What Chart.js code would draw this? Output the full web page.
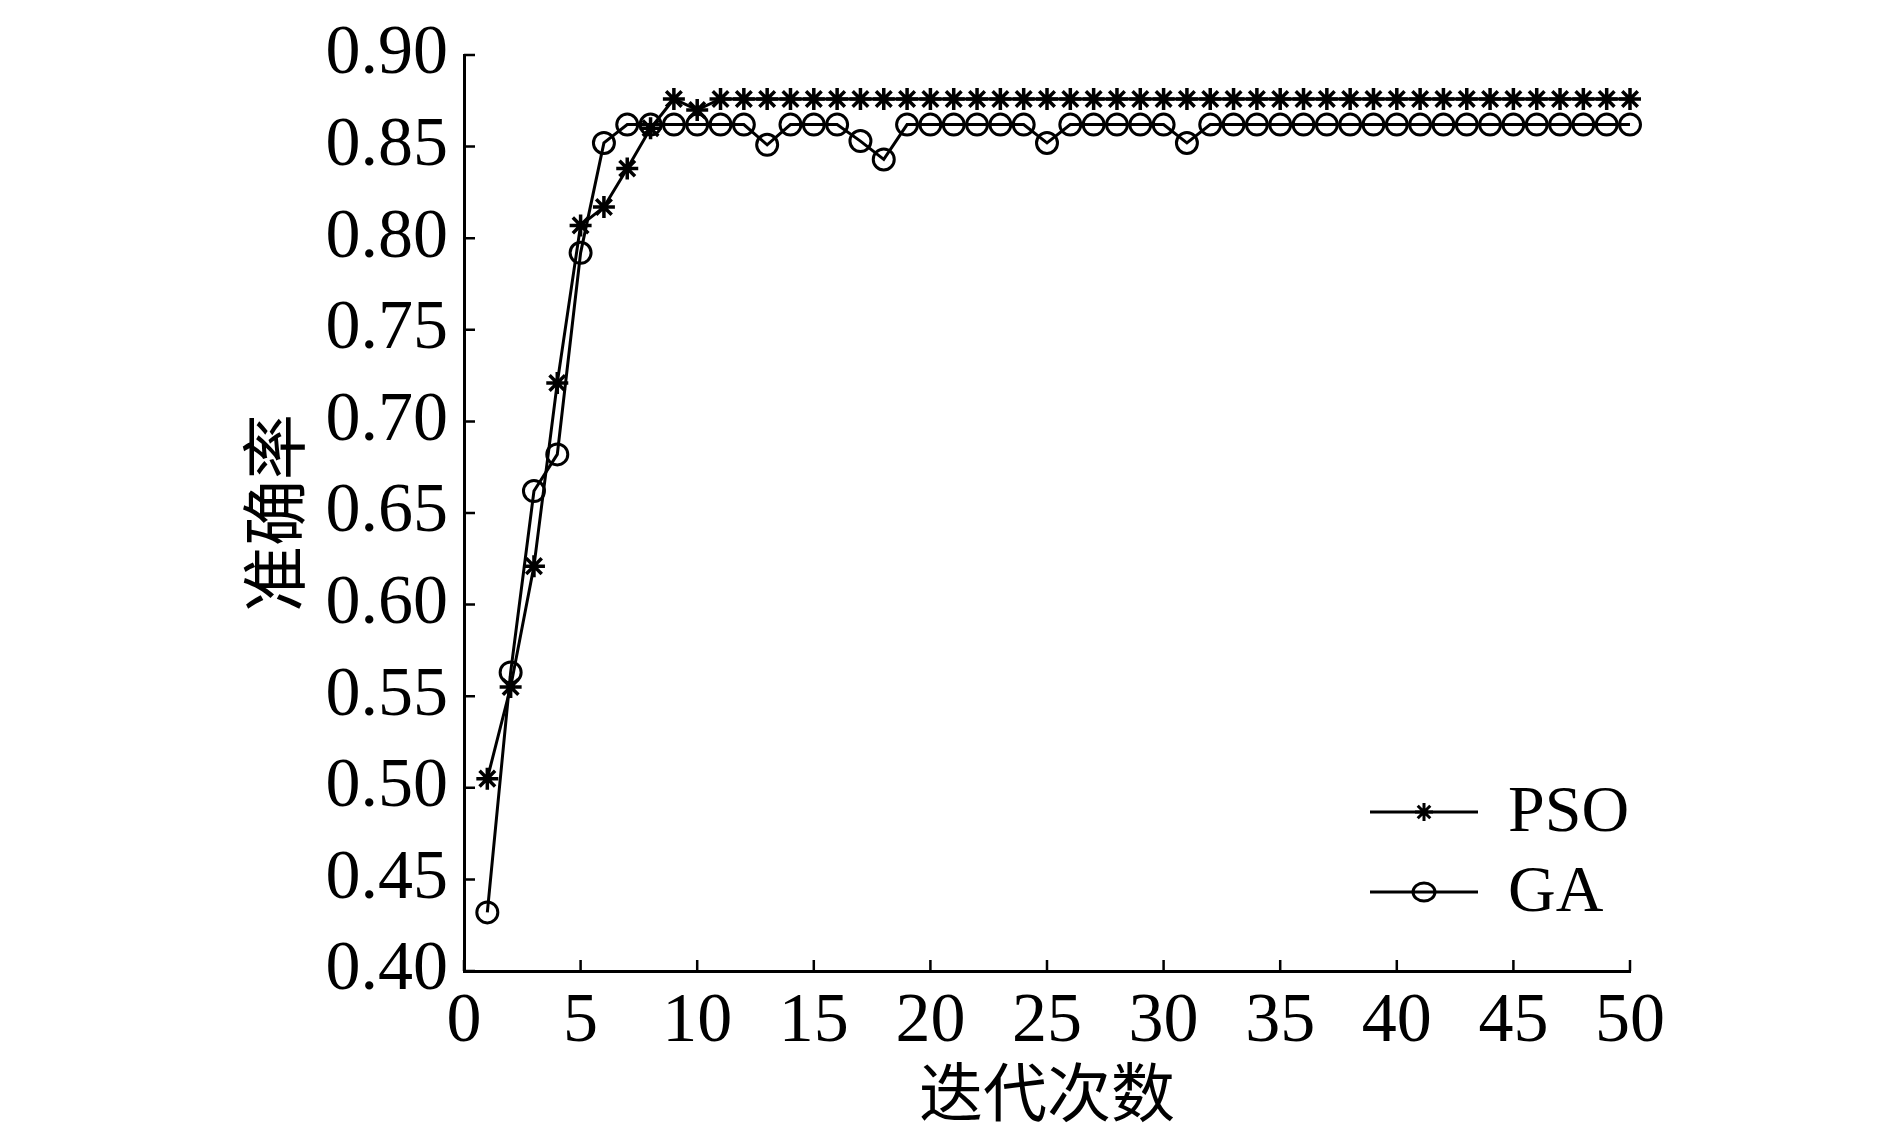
<!DOCTYPE html>
<html>
<head>
<meta charset="utf-8">
<script src="https://cdn.jsdelivr.net/npm/chart.js@4/dist/chart.umd.min.js"></script>
<style>
  body { margin: 0; background: #fff; }
  canvas { display: block; }
</style>
</head>
<body>
<canvas id="accChart" width="1890" height="1134"></canvas>
<script>
const iterations = [1, 2, 3, 4, 5, 6, 7, 8, 9, 10, 11, 12, 13, 14, 15, 16, 17, 18, 19, 20,
  21, 22, 23, 24, 25, 26, 27, 28, 29, 30, 31, 32, 33, 34, 35, 36, 37, 38, 39, 40,
  41, 42, 43, 44, 45, 46, 47, 48, 49, 50];

const psoAcc = [0.505, 0.555, 0.621, 0.721, 0.807, 0.817, 0.838, 0.860, 0.876, 0.870,
  0.876, 0.876, 0.876, 0.876, 0.876, 0.876, 0.876, 0.876, 0.876, 0.876,
  0.876, 0.876, 0.876, 0.876, 0.876, 0.876, 0.876, 0.876, 0.876, 0.876,
  0.876, 0.876, 0.876, 0.876, 0.876, 0.876, 0.876, 0.876, 0.876, 0.876,
  0.876, 0.876, 0.876, 0.876, 0.876, 0.876, 0.876, 0.876, 0.876, 0.876];

const gaAcc = [0.432, 0.563, 0.662, 0.682, 0.792, 0.852, 0.862, 0.862, 0.862, 0.862,
  0.862, 0.862, 0.851, 0.862, 0.862, 0.862, 0.853, 0.843, 0.862, 0.862,
  0.862, 0.862, 0.862, 0.862, 0.852, 0.862, 0.862, 0.862, 0.862, 0.862,
  0.852, 0.862, 0.862, 0.862, 0.862, 0.862, 0.862, 0.862, 0.862, 0.862,
  0.862, 0.862, 0.862, 0.862, 0.862, 0.862, 0.862, 0.862, 0.862, 0.862];

const seriesNames = ['PSO', 'GA'];
const xTitle = '迭代次数';
const yTitle = '准确率';

const serif = "'Liberation Serif', 'Times New Roman', serif";
const cjk = "'Noto Sans CJK SC', sans-serif";

// ticks point inward, like the original figure
const innerTicks = {
  id: 'innerTicks',
  afterDraw(chart) {
    const { ctx, chartArea: a, scales: { x, y } } = chart;
    ctx.save();
    ctx.strokeStyle = '#000';
    ctx.lineWidth = 2.5;
    ctx.beginPath();
    x.ticks.forEach(t => {
      const px = x.getPixelForValue(t.value);
      ctx.moveTo(px, a.bottom);
      ctx.lineTo(px, a.bottom - 11);
    });
    y.ticks.forEach(t => {
      const py = y.getPixelForValue(t.value);
      ctx.moveTo(a.left, py);
      ctx.lineTo(a.left + 11, py);
    });
    ctx.stroke();
    ctx.restore();
  }
};

// legend in the lower right corner of the plot
const cornerLegend = {
  id: 'cornerLegend',
  afterDraw(chart) {
    const { ctx, chartArea: a } = chart;
    const x0 = a.right - 260, x1 = a.right - 152, mx = (x0 + x1) / 2;
    const rows = [a.bottom - 159, a.bottom - 79];
    ctx.save();
    ctx.strokeStyle = '#000';
    ctx.fillStyle = '#000';
    ctx.lineWidth = 3;
    rows.forEach((ry, i) => {
      ctx.beginPath();
      ctx.moveTo(x0, ry);
      ctx.lineTo(x1, ry);
      ctx.stroke();
      ctx.beginPath();
      if (i === 0) {
        const r = 9;
        ctx.moveTo(mx - r, ry); ctx.lineTo(mx + r, ry);
        ctx.moveTo(mx, ry - r); ctx.lineTo(mx, ry + r);
        const d = r * 0.7;
        ctx.moveTo(mx - d, ry - d); ctx.lineTo(mx + d, ry + d);
        ctx.moveTo(mx - d, ry + d); ctx.lineTo(mx + d, ry - d);
      } else {
        ctx.ellipse(mx, ry, 11, 9, 0, 0, Math.PI * 2);
      }
      ctx.stroke();
      ctx.font = '66px ' + serif;
      ctx.textBaseline = 'middle';
      ctx.textAlign = 'left';
      ctx.fillText(seriesNames[i], x1 + 30, ry + 2);
    });
    ctx.restore();
  }
};

const ctx = document.getElementById('accChart').getContext('2d');
const accChart = new Chart(ctx, {
  type: 'line',
  data: {
    datasets: [{
      label: seriesNames[0],
      data: iterations.map((it, i) => ({ x: it, y: psoAcc[i] })),
      borderColor: '#000',
      borderWidth: 3,
      pointStyle: 'star',
      pointRadius: 11,
      pointBorderWidth: 3.5,
      pointBorderColor: '#000',
      pointBackgroundColor: '#000',
      tension: 0
    }, {
      label: seriesNames[1],
      data: iterations.map((it, i) => ({ x: it, y: gaAcc[i] })),
      borderColor: '#000',
      borderWidth: 3,
      pointStyle: 'circle',
      pointRadius: 10.5,
      pointBorderWidth: 3,
      pointBorderColor: '#000',
      pointBackgroundColor: 'rgba(0,0,0,0)',
      tension: 0
    }]
  },
  options: {
    responsive: false,
    animation: false,
    clip: false,
    layout: { padding: { left: 0, right: 260, top: 55, bottom: 0 } },
    plugins: {
      legend: { display: false },
      tooltip: { enabled: false }
    },
    scales: {
      x: {
        type: 'linear',
        min: 0,
        max: 50,
        grid: { display: false },
        border: { display: true, color: '#000', width: 3 },
        ticks: {
          stepSize: 5,
          color: '#000',
          padding: 2,
          maxRotation: 0,
          font: { family: serif, size: 70 }
        },
        title: {
          display: true,
          text: xTitle,
          color: '#000',
          font: { family: cjk, size: 64, lineHeight: 1.2 },
          padding: { top: 0, bottom: 4 }
        },
        afterFit(scale) { scale.height = 163; }
      },
      y: {
        min: 0.40,
        max: 0.90,
        grid: { display: false },
        border: { display: true, color: '#000', width: 3 },
        ticks: {
          stepSize: 0.05,
          color: '#000',
          padding: 8,
          font: { family: serif, size: 70 },
          callback: v => v.toFixed(2)
        },
        title: {
          display: true,
          text: yTitle,
          color: '#000',
          font: { family: cjk, size: 66, lineHeight: 1.2 },
          padding: { top: 234, bottom: 0 }
        },
        afterFit(scale) { scale.width = 464; }
      }
    }
  },
  plugins: [innerTicks, cornerLegend]
});
</script>
</body>
</html>
